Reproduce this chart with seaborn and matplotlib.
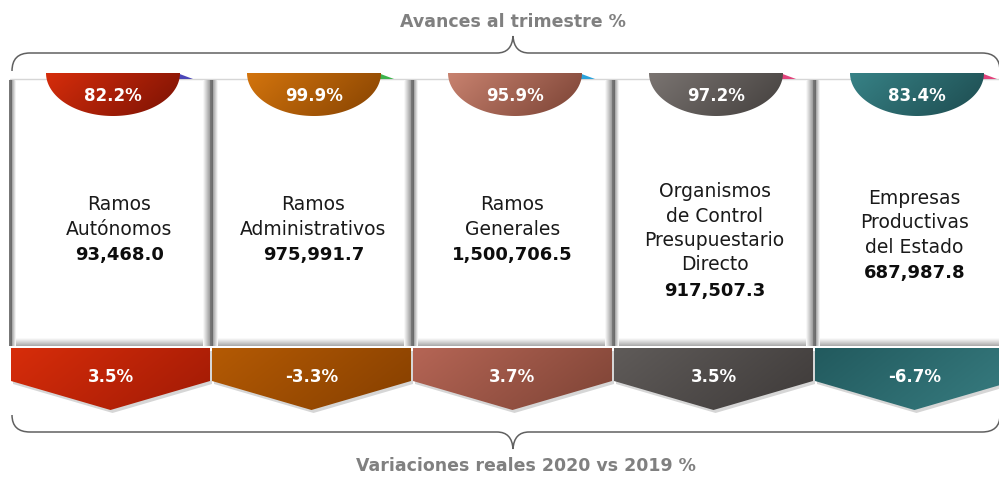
import numpy as np
import pandas as pd
import matplotlib
matplotlib.use("Agg")
import matplotlib.pyplot as plt
import seaborn as sns
from matplotlib.patches import Polygon, PathPatch
from matplotlib.path import Path
from matplotlib.colors import to_rgb

# ---------------- data ----------------
categorias = ["Ramos\nAutónomos", "Ramos\nAdministrativos", "Ramos\nGenerales",
              "Organismos\nde Control\nPresupuestario\nDirecto",
              "Empresas\nProductivas\ndel Estado"]
montos = [93468.0, 975991.7, 1500706.5, 917507.3, 687987.8]
avances = [82.2, 99.9, 95.9, 97.2, 83.4]
variaciones = [3.5, -3.3, 3.7, 3.5, -6.7]
titulo_sup = "Avances al trimestre %"
titulo_inf = "Variaciones reales 2020 vs 2019 %"

# ---------------- styles ----------------
semi_ini = ["#d62d0b", "#d3740d", "#c8826f", "#7a7471", "#378286"]
semi_fin = ["#7a1204", "#864302", "#7a4234", "#433f3d", "#1d4b4f"]
flecha_ini = ["#d72d0a", "#b45a04", "#b56555", "#5f5b59", "#225a5e"]
flecha_fin = ["#a01a05", "#853f00", "#7d4335", "#3e3a39", "#387d81"]
cuna = ["#4b46b8", "#3db34c", "#2aa3dc", "#e2437c", "#e2437c"]

sns.set_theme(style="white")
plt.rcParams['font.family'] = ['DejaVu Sans']

W, H = 999, 478
fig = plt.figure(figsize=(W / 100, H / 100), dpi=100)
fig.patch.set_facecolor("white")
ax = fig.add_axes([0, 0, 1, 1])

PASO = 201.0
X0 = 110.5


def ux(px):
    return (px - X0) / PASO


def dpx(d):
    return d / PASO


def relleno_grad(x0, x1, y0, y1, c0, c1, wx=1.0, wy=0.0, clip=None, z=3):
    n = 80
    u = np.linspace(0, 1, n)
    U, V = np.meshgrid(u, u)
    t = wx * U + wy * V
    t = (t - t.min()) / (t.max() - t.min())
    a, b = np.array(to_rgb(c0)), np.array(to_rgb(c1))
    img = a + (b - a) * t[..., None]
    im = ax.imshow(img, extent=(x0, x1, y1, y0), origin="upper", aspect="auto",
                   interpolation="bilinear", zorder=z)
    if clip is not None:
        im.set_clip_path(clip)
    return im


TOP, BOT = 79, 346

# card bodies (white bars via seaborn)
df = pd.DataFrame({"categoria": categorias, "monto": montos})
df["alto"] = BOT - TOP
sns.barplot(data=df, x="categoria", y="alto", bottom=TOP, width=1.0, color="white",
            edgecolor="none", ax=ax, zorder=1, errorbar=None, saturation=1)

# top light line
ax.plot([ux(10), ux(999)], [TOP, TOP], color="#d6d6d6", lw=1, zorder=2)

# card shading
n = len(categorias)
for j in range(n + 1):
    xj = 10 + PASO * j
    if j >= 1:
        relleno_grad(ux(xj - 8), ux(xj - 1), TOP + 1, BOT, "#ffffff", "#9c9c9c", z=2)
    relleno_grad(ux(xj - 1), ux(xj + 2), TOP + 1, BOT, "#7a7a7a", "#6a6a6a", z=2.1)
    relleno_grad(ux(xj + 2), ux(xj + 6), TOP + 1, BOT, "#a0a0a0", "#ffffff", z=2)
for i in range(n):
    relleno_grad(i - 0.5 + dpx(4), i + 0.5 - dpx(8), BOT - 8, BOT, "#ffffff", "#a8a8a8",
                 wx=0.0, wy=1.0, z=1.9)

# semicircles with avance
for i in range(n):
    cx = i + dpx(2.5)
    a = dpx(67)
    b = 43
    yt = 73
    # small wedge
    ax.add_patch(Polygon([(cx + a - dpx(3), yt), (cx + a + dpx(13), TOP),
                          (cx + a - dpx(4), TOP)], closed=True, fc=cuna[i], ec="none", zorder=4))
    th = np.linspace(0, np.pi, 100)
    xs = cx + a * np.cos(th)
    ys = yt + b * np.sin(th)
    poly = Polygon(np.column_stack([xs, ys]), closed=True, fc="none", ec="none", zorder=5)
    ax.add_patch(poly)
    relleno_grad(cx - a, cx + a, yt, yt + b, semi_ini[i], semi_fin[i], wx=1.0, wy=0.35,
                 clip=poly, z=5)
    ax.text(cx, 96, f"{avances[i]:.1f}%", ha="center", va="center", color="white",
            fontsize=12, fontweight="bold", zorder=6)

# names and amounts
x_off = [9, 2, 0, 1, 0]
for i in range(n):
    lineas = categorias[i].split("\n")
    k = len(lineas)
    vy = 255 + 18 * (k - 2)
    cx = i + dpx(x_off[i])
    for m, ln in enumerate(lineas):
        y = vy - 26 - 24.5 * (k - 1 - m)
        ax.text(cx, y, ln, ha="center", va="center", color="#1a1a1a", fontsize=13.5, zorder=6)
    ax.text(cx, vy, f"{montos[i]:,.1f}", ha="center", va="center", color="#0d0d0d",
            fontsize=13, fontweight="bold", zorder=6)

# chevrons with variaciones
for i in range(n):
    xl, xr = i - 0.5 + dpx(1), i + 0.5 - dpx(1)
    verts = [(xl, 348), (xr, 348), (xr, 381), (i, 410), (xl, 381)]
    ax.add_patch(Polygon([(x + dpx(2), y + 3) for x, y in verts], closed=True,
                         fc="#000000", alpha=0.16, ec="none", zorder=3))
    poly = Polygon(verts, closed=True, fc="none", ec="none", zorder=4)
    ax.add_patch(poly)
    relleno_grad(xl, xr, 348, 410, flecha_ini[i], flecha_fin[i], wx=1.0, wy=0.4,
                 clip=poly, z=4)
    ax.text(i, 377, f"{variaciones[i]:.1f}%", ha="center", va="center", color="white",
            fontsize=12, fontweight="bold", zorder=6)


# braces
def llave(y_line, y_end, y_tip, x_l=12, x_r=1000, x_tip=513, r=18):
    pts = [
        (x_l, y_end),
        (x_l, y_line), (x_l + r, y_line),
        (x_tip - 16, y_line),
        (x_tip - 1, y_line), (x_tip, y_tip),
        (x_tip + 1, y_line), (x_tip + 16, y_line),
        (x_r - r, y_line),
        (x_r, y_line), (x_r, y_end),
    ]
    codes = [Path.MOVETO, Path.CURVE3, Path.CURVE3, Path.LINETO, Path.CURVE3, Path.CURVE3,
             Path.CURVE3, Path.CURVE3, Path.LINETO, Path.CURVE3, Path.CURVE3]
    verts = [(ux(x), y) for x, y in pts]
    ax.add_patch(PathPatch(Path(verts, codes), fc="none", ec="#606060", lw=1.1, zorder=2))


llave(53, 71, 36)
llave(432, 415, 449)

ax.text(ux(513), 22, titulo_sup, ha="center", va="center", color="#808080",
        fontsize=12.5, fontweight="bold")
ax.text(ux(526), 466, titulo_inf, ha="center", va="center", color="#808080",
        fontsize=12.5, fontweight="bold")

ax.set_xlim(ux(0), ux(999))
ax.set_ylim(H, 0)
ax.set_axis_off()

fig.savefig("out.png", dpi=100, facecolor="white")
